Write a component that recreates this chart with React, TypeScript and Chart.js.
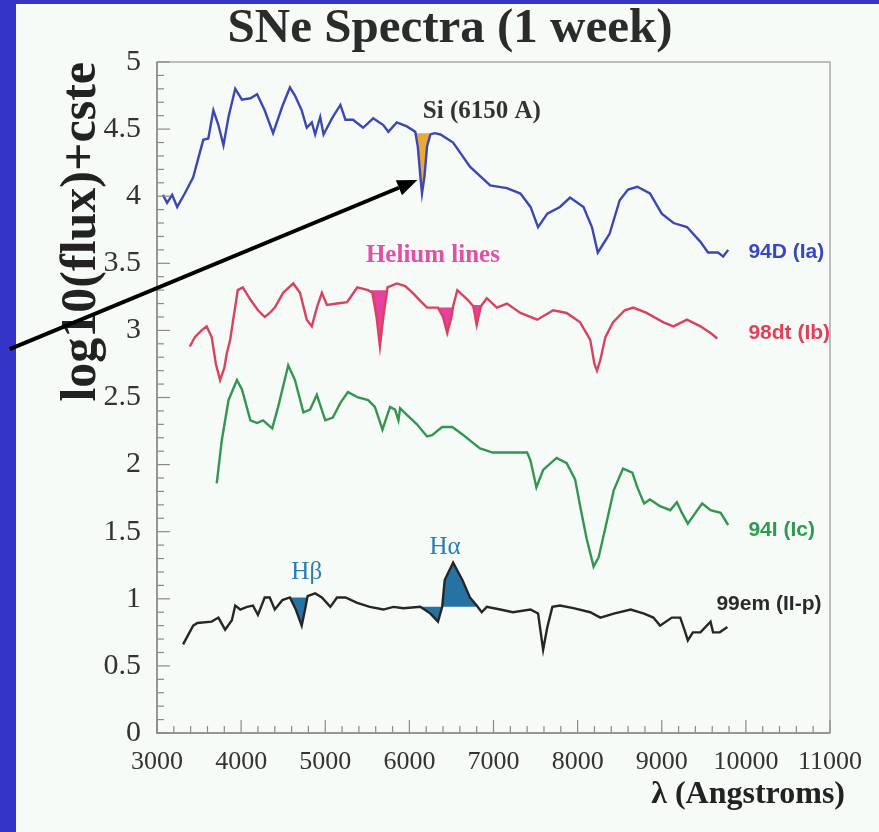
import { useEffect, useRef } from "react";
import { Chart, registerables } from "chart.js";

Chart.register(...registerables);

// ---------- data ----------
const xTickValues = [3000, 4000, 5000, 6000, 7000, 8000, 9000, 10000, 11000];
const yTickValues = [0, 0.5, 1, 1.5, 2, 2.5, 3, 3.5, 4, 4.5, 5];

const seriesNames = ["94D (Ia)", "98dt (Ib)", "94I (Ic)", "99em (II-p)"];

const iaWave = [3070, 3120, 3180, 3240, 3330, 3430, 3550, 3610, 3670, 3730, 3790, 3850, 3930, 4010, 4110, 4190, 4280, 4380, 4490, 4580, 4640, 4720, 4780, 4840, 4880, 4940, 4980, 5080, 5180, 5240, 5330, 5450, 5570, 5690, 5750, 5850, 5970, 6070, 6100, 6130, 6150, 6180, 6210, 6250, 6300, 6370, 6520, 6720, 6960, 7160, 7320, 7440, 7530, 7640, 7790, 7910, 8070, 8170, 8240, 8300, 8380, 8500, 8600, 8710, 8860, 9000, 9140, 9300, 9460, 9550, 9610, 9670, 9730, 9790];
const iaFlux = [4.01, 3.95, 4.01, 3.92, 4.02, 4.14, 4.42, 4.43, 4.64, 4.53, 4.38, 4.59, 4.80, 4.72, 4.73, 4.76, 4.64, 4.47, 4.67, 4.81, 4.75, 4.64, 4.51, 4.55, 4.46, 4.59, 4.46, 4.58, 4.68, 4.57, 4.57, 4.51, 4.58, 4.53, 4.48, 4.55, 4.52, 4.48, 4.37, 4.15, 4.02, 4.15, 4.37, 4.46, 4.47, 4.46, 4.40, 4.22, 4.08, 4.06, 4.02, 3.92, 3.77, 3.87, 3.92, 3.99, 3.92, 3.77, 3.58, 3.64, 3.72, 3.97, 4.05, 4.07, 4.02, 3.87, 3.80, 3.77, 3.66, 3.58, 3.58, 3.58, 3.55, 3.60];

const ibWave = [3390, 3450, 3530, 3590, 3650, 3700, 3750, 3800, 3830, 3870, 3960, 4020, 4110, 4200, 4280, 4340, 4400, 4500, 4620, 4700, 4780, 4840, 4900, 4960, 5020, 5140, 5260, 5380, 5510, 5560, 5610, 5650, 5690, 5740, 5850, 5950, 6040, 6130, 6210, 6340, 6400, 6450, 6500, 6520, 6570, 6690, 6760, 6800, 6850, 6920, 7040, 7160, 7320, 7520, 7710, 7870, 8030, 8150, 8200, 8230, 8270, 8330, 8420, 8560, 8660, 8820, 9020, 9140, 9300, 9460, 9580, 9660];
const ibFlux = [2.88, 2.95, 3.00, 3.03, 2.95, 2.75, 2.63, 2.72, 2.83, 2.93, 3.30, 3.32, 3.23, 3.15, 3.10, 3.13, 3.17, 3.28, 3.35, 3.28, 3.08, 3.03, 3.17, 3.28, 3.19, 3.20, 3.21, 3.32, 3.30, 3.28, 3.10, 2.88, 3.10, 3.32, 3.35, 3.33, 3.28, 3.22, 3.17, 3.17, 3.10, 2.98, 3.10, 3.18, 3.30, 3.23, 3.18, 3.04, 3.18, 3.24, 3.17, 3.20, 3.13, 3.08, 3.15, 3.13, 3.06, 2.93, 2.75, 2.70, 2.78, 2.95, 3.06, 3.15, 3.17, 3.13, 3.06, 3.03, 3.08, 3.03, 2.98, 2.94];

const icWave = [3710, 3770, 3850, 3950, 4010, 4110, 4190, 4260, 4370, 4440, 4560, 4640, 4740, 4820, 4900, 5000, 5090, 5180, 5270, 5390, 5510, 5590, 5680, 5770, 5830, 5870, 5890, 5970, 6090, 6210, 6270, 6390, 6510, 6640, 6760, 6840, 6990, 7160, 7400, 7440, 7510, 7590, 7750, 7870, 7970, 8030, 8110, 8190, 8250, 8330, 8430, 8540, 8650, 8710, 8790, 8860, 8980, 9100, 9180, 9240, 9310, 9400, 9480, 9580, 9700, 9790];
const icFlux = [1.86, 2.18, 2.48, 2.63, 2.56, 2.33, 2.31, 2.33, 2.27, 2.43, 2.74, 2.63, 2.39, 2.41, 2.52, 2.33, 2.35, 2.46, 2.54, 2.50, 2.48, 2.43, 2.26, 2.43, 2.41, 2.33, 2.42, 2.37, 2.30, 2.21, 2.22, 2.28, 2.28, 2.22, 2.16, 2.12, 2.09, 2.09, 2.09, 2.03, 1.83, 1.96, 2.05, 2.01, 1.89, 1.69, 1.44, 1.24, 1.31, 1.53, 1.81, 1.97, 1.94, 1.83, 1.71, 1.74, 1.69, 1.66, 1.72, 1.64, 1.56, 1.64, 1.71, 1.66, 1.64, 1.55];

const iipWave = [3310, 3430, 3480, 3650, 3730, 3810, 3890, 3930, 3990, 4070, 4140, 4200, 4280, 4340, 4400, 4490, 4580, 4650, 4720, 4760, 4790, 4880, 4960, 5060, 5140, 5240, 5380, 5530, 5690, 5810, 5930, 6130, 6250, 6340, 6390, 6420, 6520, 6630, 6720, 6800, 6860, 6920, 7080, 7230, 7440, 7530, 7590, 7640, 7700, 7790, 7950, 8150, 8270, 8430, 8630, 8790, 8900, 8980, 9120, 9220, 9280, 9310, 9370, 9460, 9580, 9610, 9690, 9780];
const iipFlux = [0.66, 0.80, 0.82, 0.83, 0.86, 0.77, 0.84, 0.95, 0.92, 0.94, 0.95, 0.88, 1.01, 1.01, 0.92, 0.99, 1.01, 0.92, 0.80, 0.92, 1.02, 1.04, 1.01, 0.94, 1.01, 1.01, 0.97, 0.94, 0.92, 0.94, 0.93, 0.94, 0.89, 0.83, 0.94, 1.14, 1.27, 1.14, 1.01, 0.95, 0.90, 0.94, 0.92, 0.90, 0.92, 0.89, 0.62, 0.79, 0.94, 0.95, 0.93, 0.90, 0.86, 0.89, 0.92, 0.89, 0.86, 0.80, 0.86, 0.86, 0.75, 0.69, 0.75, 0.75, 0.83, 0.75, 0.75, 0.79];

// highlighted line regions: [from, to, continuum level]
const siRegion = [6070, 6250, 4.47];
const heliumRegions = [
  [5510, 5740, 3.30],
  [6340, 6520, 3.17],
  [6760, 6850, 3.19],
];
const hBetaRegion = [4580, 4790, 1.01];
const hAlphaRegion = [6130, 6800, 0.94];

// arrow (data units): tail, head
const arrowTail = [1250, 2.86];
const arrowHead = [6095, 4.12];

// ---------- helpers ----------
const pts = (xs: number[], ys: number[]) => xs.map((x, i) => ({ x, y: ys[i] }));
const seg = (xs: number[], ys: number[], r: number[]) =>
  pts(xs, ys).filter((p) => p.x >= r[0] && p.x <= r[1]);

const SERIF = "'Liberation Serif', 'Times New Roman', Times, serif";
const SANS = "'Liberation Sans', Arial, Helvetica, sans-serif";

const COL_IA = "#3a47b4";
const COL_IB = "#d9415f";
const COL_IC = "#33954f";
const COL_IIP = "#262626";

const notes = [
  { text: seriesNames[0], x: 10030, y: 3.58, color: "#3848c0", font: `bold 21px ${SANS}`, align: "left" },
  { text: seriesNames[1], x: 10030, y: 2.98, color: "#e0405a", font: `bold 21px ${SANS}`, align: "left" },
  { text: seriesNames[2], x: 10030, y: 1.51, color: "#2f9a50", font: `bold 21px ${SANS}`, align: "left" },
  { text: seriesNames[3], x: 9650, y: 0.96, color: "#2a2a2a", font: `bold 21px ${SANS}`, align: "left" },
  { text: "Si (6150 A)", x: 6160, y: 4.63, color: "#333333", font: `bold 25px ${SERIF}`, align: "left" },
  { text: "Helium lines", x: 6280, y: 3.56, color: "#e050a8", font: `bold 25px ${SERIF}`, align: "center" },
  { text: "H\u03b2", x: 4780, y: 1.2, color: "#2a7fb2", font: `25px ${SERIF}`, align: "center" },
  { text: "H\u03b1", x: 6425, y: 1.38, color: "#2a7fb2", font: `25px ${SERIF}`, align: "center" },
];

const xAxisTitle = "\u03bb (Angstroms)";

const decorPlugin = {
  id: "decor",
  afterDatasetsDraw(chart: any) {
    const { ctx, chartArea: a, scales } = chart;
    const xs = scales.x;
    const ys = scales.y;
    ctx.save();
    // frame
    ctx.strokeStyle = "#a8a8a8";
    ctx.lineWidth = 1.5;
    ctx.strokeRect(a.left, a.top, a.right - a.left, a.bottom - a.top);
    ctx.strokeStyle = "#8a8a8a";
    ctx.beginPath();
    ctx.moveTo(a.left, a.top);
    ctx.lineTo(a.left, a.bottom);
    ctx.lineTo(a.right, a.bottom);
    ctx.stroke();
    // inward ticks
    ctx.lineWidth = 1.2;
    for (let i = 0; i <= 50; i++) {
      const py = ys.getPixelForValue(i / 10);
      const len = i % 5 === 0 ? 13 : 7;
      ctx.beginPath();
      ctx.moveTo(a.left, py);
      ctx.lineTo(a.left + len, py);
      ctx.stroke();
    }
    for (let v = 3000; v <= 11000; v += 200) {
      const px = xs.getPixelForValue(v);
      const len = v % 1000 === 0 ? 13 : 7;
      ctx.beginPath();
      ctx.moveTo(px, a.bottom);
      ctx.lineTo(px, a.bottom - len);
      ctx.stroke();
    }
    ctx.restore();
  },
  afterDraw(chart: any) {
    const { ctx, scales, chartArea: a } = chart;
    const xs = scales.x;
    const ys = scales.y;
    ctx.save();
    for (const n of notes) {
      ctx.font = n.font;
      ctx.fillStyle = n.color;
      ctx.textAlign = n.align as CanvasTextAlign;
      ctx.textBaseline = "middle";
      ctx.fillText(n.text, xs.getPixelForValue(n.x), ys.getPixelForValue(n.y));
    }
    // x axis title
    ctx.font = `bold 32px ${SERIF}`;
    ctx.fillStyle = "#222";
    ctx.textAlign = "right";
    ctx.textBaseline = "middle";
    ctx.fillText(xAxisTitle, a.right + 15, a.bottom + 62);
    // arrow
    const x0 = xs.getPixelForValue(arrowTail[0]);
    const y0 = ys.getPixelForValue(arrowTail[1]);
    const x1 = xs.getPixelForValue(arrowHead[0]);
    const y1 = ys.getPixelForValue(arrowHead[1]);
    const ang = Math.atan2(y1 - y0, x1 - x0);
    const hl = 20;
    const hw = 8;
    const bx = x1 - hl * Math.cos(ang);
    const by = y1 - hl * Math.sin(ang);
    ctx.strokeStyle = "#000";
    ctx.fillStyle = "#000";
    ctx.lineWidth = 4;
    ctx.beginPath();
    ctx.moveTo(x0, y0);
    ctx.lineTo(bx, by);
    ctx.stroke();
    ctx.beginPath();
    ctx.moveTo(x1, y1);
    ctx.lineTo(bx + hw * Math.sin(ang), by - hw * Math.cos(ang));
    ctx.lineTo(bx - hw * Math.sin(ang), by + hw * Math.cos(ang));
    ctx.closePath();
    ctx.fill();
    ctx.restore();
  },
};

function lineDs(label: string, data: any[], color: string) {
  return {
    label,
    data,
    borderColor: color,
    backgroundColor: color,
    borderWidth: 2.4,
    pointRadius: 0,
    tension: 0,
    fill: false,
    order: 1,
  };
}
function fillDs(label: string, data: any[], base: number, color: string) {
  return {
    label,
    data,
    borderColor: color,
    backgroundColor: color,
    borderWidth: 0,
    pointRadius: 0,
    tension: 0,
    fill: { value: base },
    order: 2,
  };
}

export default function App() {
  const ref = useRef<HTMLCanvasElement>(null);
  useEffect(() => {
    const datasets: any[] = [
      lineDs(seriesNames[0], pts(iaWave, iaFlux), COL_IA),
      lineDs(seriesNames[1], pts(ibWave, ibFlux), COL_IB),
      lineDs(seriesNames[2], pts(icWave, icFlux), COL_IC),
      lineDs(seriesNames[3], pts(iipWave, iipFlux), COL_IIP),
      fillDs("Si", seg(iaWave, iaFlux, siRegion), siRegion[2], "#e9a83a"),
      ...heliumRegions.map((r, i) => fillDs("He" + i, seg(ibWave, ibFlux, r), r[2], "#e8409e")),
      fillDs("Hbeta", seg(iipWave, iipFlux, hBetaRegion), hBetaRegion[2], "#2672a3"),
      fillDs("Halpha", seg(iipWave, iipFlux, hAlphaRegion), hAlphaRegion[2], "#2672a3"),
    ];
    const chart = new Chart(ref.current as HTMLCanvasElement, {
      type: "line",
      data: { datasets },
      options: {
        animation: false,
        responsive: false,
        maintainAspectRatio: false,
        devicePixelRatio: 1,
        layout: { padding: { left: 70, top: 4, right: 49, bottom: 0 } },
        plugins: {
          legend: { display: false },
          tooltip: { enabled: false },
          title: {
            display: true,
            text: "SNe Spectra (1 week)",
            color: "#2b2b2b",
            font: { family: SERIF, size: 49, weight: "bold", lineHeight: 1 },
            padding: { top: 1, bottom: 8 },
          },
        },
        scales: {
          x: {
            type: "linear",
            min: 3000,
            max: 11000,
            afterFit: (s: any) => {
              s.height = 99;
            },
            afterBuildTicks: (s: any) => {
              s.ticks = xTickValues.map((v) => ({ value: v }));
            },
            ticks: {
              autoSkip: false,
              maxRotation: 0,
              color: "#333",
              padding: 14,
              font: { family: SERIF, size: 26 },
              callback: (v: any) => String(v),
            },
            grid: { display: false, drawTicks: false },
            border: { display: false },
            title: { display: false },
          },
          y: {
            type: "linear",
            min: 0,
            max: 5,
            afterFit: (s: any) => {
              s.width = 87;
            },
            afterBuildTicks: (s: any) => {
              s.ticks = yTickValues.map((v) => ({ value: v }));
            },
            ticks: {
              color: "#333",
              padding: 16,
              font: { family: SERIF, size: 30 },
              callback: (v: any) => String(v),
            },
            grid: { display: false, drawTicks: false },
            border: { display: false },
            title: {
              display: true,
              text: "log10(flux)+cste",
              align: "end",
              color: "#222",
              font: { family: SERIF, size: 50, weight: "bold", lineHeight: 1.2 },
              padding: { top: -18, bottom: 0 },
            },
          },
        },
      },
      plugins: [decorPlugin],
    } as any);
    return () => chart.destroy();
  }, []);
  return (
    <div
      style={{
        position: "fixed",
        left: 0,
        top: 0,
        width: 879,
        height: 832,
        background: "#3434c8",
        overflow: "hidden",
      }}
    >
      <div
        style={{
          position: "absolute",
          left: 16,
          top: 4,
          right: 0,
          bottom: 0,
          background: "#f7fbf7",
        }}
      />
      <canvas
        ref={ref}
        width={879}
        height={832}
        style={{ position: "absolute", left: 0, top: 0, width: 879, height: 832 }}
      />
    </div>
  );
}
